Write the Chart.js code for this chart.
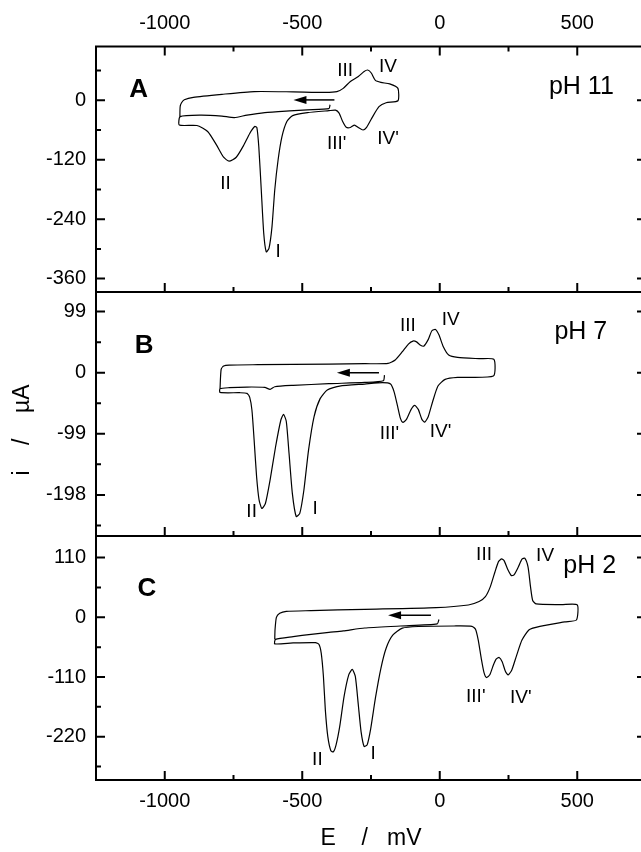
<!DOCTYPE html>
<html>
<head>
<meta charset="utf-8">
<script src="https://cdn.jsdelivr.net/npm/chart.js@4"></script>
<style>
  html, body { margin: 0; padding: 0; overflow: hidden; background: #fff; width: 641px; height: 852px; }
  canvas { position: absolute; left: 0; }
</style>
</head>
<body>
<canvas id="cA" width="650" height="295" style="top:0px"></canvas>
<canvas id="cB" width="650" height="250" style="top:289px"></canvas>
<canvas id="cC" width="650" height="319" style="top:533px"></canvas>
<script>
// potential axis (mV)
const xTicks = [-1000, -500, 0, 500];
const xMinor = [-750, -250, 250];

// current axes (uA), one per panel
const yTicksA = [0, -120, -240, -360];
const yMinorA = [60, -60, -180, -300];
const yTicksB = [99, 0, -99, -198];
const yMinorB = [49.5, -49.5, -148.5, -247.5];
const yTicksC = [110, 0, -110, -220];
const yMinorC = [55, -55, -165, -275];

// voltammograms, [E mV, i uA] in scan order
const cvA = [
  [-399, -9], [-403, -17],
  [-481, -19.5], [-546, -21.6], [-636, -25], [-701, -30], [-747, -35], [-792, -32], [-870, -30], [-944, -33],
  [-947, -50],
  [-883, -51], [-844, -63], [-812, -90], [-786, -115], [-766, -123], [-740, -115], [-714, -92], [-691, -67],
  [-673, -53], [-665, -55], [-658, -94], [-649, -181], [-640, -269], [-631, -306], [-621, -299], [-610, -255],
  [-600, -181], [-588, -121], [-574, -74], [-556, -43], [-535, -31], [-481, -25], [-403, -21], [-379, -20],
  [-366, -26], [-353, -43], [-340, -54.6], [-325, -55], [-310, -50], [-296, -55], [-279, -60], [-266, -54.6],
  [-247, -36], [-221, -13], [-195, -5], [-152, -1],
  [-152, 24],
  [-182, 33], [-214, 36], [-234, 40], [-249, 55], [-262, 61], [-275, 58], [-296, 48], [-325, 38], [-351, 24],
  [-374, 17.5], [-416, 16], [-533, 17], [-675, 17.5], [-792, 12], [-896, 6], [-929, 1], [-939, -5], [-944, -13], [-945, -33]
];

const cvB = [
  [-201, -4], [-205, -13],
  [-273, -15.7], [-403, -17.8], [-533, -20.5], [-600, -22.7], [-617, -27], [-636, -23.8], [-701, -23.2], [-766, -24.3], [-799, -26],
  [-799, -32],
  [-727, -32.4], [-701, -33.5], [-691, -40], [-683, -60.5], [-675, -109], [-666, -168.5], [-657, -206], [-647, -220],
  [-634, -212], [-617, -174], [-597, -120], [-578, -77], [-568, -67.5], [-558, -79], [-548, -131], [-536, -195.5],
  [-522, -233], [-509, -228], [-494, -190], [-477, -125], [-457, -71], [-435, -42], [-409, -28], [-364, -21.6],
  [-273, -18.4], [-208, -16.2], [-179, -18.4],
  [-166, -31], [-153, -55], [-143, -74], [-134, -80.5], [-121, -75.6], [-104, -59.4], [-91, -53], [-78, -59.4],
  [-65, -75.6], [-54.5, -80], [-42, -71.3], [-26, -47], [-6.5, -21.6], [19.5, -10.8], [65, -7.6], [195, -5.4],
  [197, 21.6],
  [143, 22.7], [65, 24.8], [32.5, 28.6], [13, 42], [-2.6, 61], [-15.6, 70], [-28.6, 68], [-41.6, 54], [-58.4, 43],
  [-71.4, 45], [-84.4, 50], [-97.4, 51.3], [-114, 46.4], [-136, 34], [-162, 20.5], [-188, 15], [-273, 14.6],
  [-403, 14], [-662, 13], [-766, 12.4], [-786, 10.8], [-795, 5.4], [-799, -26]
];

const cvC = [
  [-3, -4], [-9, -12],
  [-143, -16], [-273, -19.7], [-351, -25], [-403, -27.7], [-468, -31.3], [-533, -35.6], [-597, -40.6],
  [-600, -49],
  [-533, -47.3], [-452, -46.7], [-439, -50], [-431, -66], [-423, -109], [-416, -171], [-407, -220], [-396, -246],
  [-387, -248], [-377, -235], [-364, -202], [-348, -146], [-331, -106], [-318, -96], [-307, -109], [-296, -162],
  [-286, -211], [-275, -238], [-264, -235], [-251, -205], [-234, -149], [-214, -94], [-195, -57], [-171, -33],
  [-136, -20], [-78, -17], [52, -16], [117, -16.6],
  [130, -22], [140, -42], [151, -76], [161, -102], [170, -111], [182, -106], [195, -88], [205, -77], [216, -74],
  [227, -82], [239, -100], [249, -106], [262, -97], [279, -71], [299, -42], [325, -23], [364, -16.6], [455, -8.6], [497, -5],
  [500, 23],
  [442, 23.4], [351, 24.6], [338, 31], [330, 56.5], [321, 93], [309, 109], [299, 107], [286, 93], [270, 78],
  [260, 77], [247, 88.5], [234, 104.5], [225, 107.5], [214, 103], [201, 84], [184, 56.5], [166, 38], [143, 29],
  [104, 22.7], [-13, 17.8], [-273, 14.7], [-468, 12.3], [-558, 11], [-582, 7.4], [-594, 0], [-599, -23], [-600, -40.6]
];

const FONT = "'Liberation Sans', Arial, sans-serif";
Chart.defaults.font.family = FONT;
Chart.defaults.color = '#000';

// frame, inward ticks, peak labels and scan arrow
const panelPlugin = {
  id: 'panel',
  afterDraw(chart) {
    const o = chart.options.plugins.panel;
    const { ctx, chartArea: a } = chart;
    const x = chart.scales.x, y = chart.scales.y;
    ctx.save();
    ctx.strokeStyle = '#000';
    ctx.lineWidth = 2;
    ctx.strokeRect(a.left, a.top, a.right - a.left, a.bottom - a.top);

    ctx.beginPath();
    const xt = (vals, len) => vals.forEach(v => {
      const px = x.getPixelForValue(v);
      ctx.moveTo(px, a.bottom); ctx.lineTo(px, a.bottom - len);
      if (o.topTicks) { ctx.moveTo(px, a.top); ctx.lineTo(px, a.top + len); }
    });
    const yt = (vals, len) => vals.forEach(v => {
      const py = y.getPixelForValue(v);
      ctx.moveTo(a.left, py); ctx.lineTo(a.left + len, py);
      ctx.moveTo(a.right, py); ctx.lineTo(a.right - len, py);
    });
    xt(xTicks, 9); xt(xMinor, 5);
    yt(o.yMajor, 9); yt(o.yMinor, 5);
    ctx.stroke();

    ctx.fillStyle = '#000';
    ctx.textAlign = 'center';
    ctx.textBaseline = 'middle';
    o.labels.forEach(l => {
      ctx.font = l.font;
      ctx.fillText(l.text, x.getPixelForValue(l.e), y.getPixelForValue(l.i));
    });

    // arrow showing scan direction
    const ar = o.arrow;
    const x1 = x.getPixelForValue(ar.from), x2 = x.getPixelForValue(ar.to), py = y.getPixelForValue(ar.i);
    ctx.lineWidth = 1.5;
    ctx.beginPath();
    ctx.moveTo(x1, py); ctx.lineTo(x2 + 10, py);
    ctx.stroke();
    ctx.beginPath();
    ctx.moveTo(x2, py); ctx.lineTo(x2 + 13, py - 4); ctx.lineTo(x2 + 13, py + 4);
    ctx.closePath();
    ctx.fill();
    ctx.restore();
  }
};

const roman = '19px ' + FONT;
const big = '25px ' + FONT;
const bold = 'bold 26px ' + FONT;

// keep the panels flush: no extra room for edge labels
function noPad(s) {
  s.paddingTop = 0; s.paddingBottom = 0; s.paddingLeft = 0; s.paddingRight = 0;
}

function makePanel(id, cv, yMin, yMax, yMajor, yMinor, opts) {
  const xScale = {
    type: 'linear', min: -1250, max: 750,
    position: opts.xPos || 'bottom',
    display: opts.xShow,
    afterBuildTicks: s => { s.ticks = xTicks.map(v => ({ value: v })); },
    afterFit: s => { if (opts.xHeight) s.height = opts.xHeight; noPad(s); },
    grid: { display: false, drawTicks: false },
    border: { display: false },
    ticks: { font: { size: 20 }, color: '#000', padding: opts.xPad || 0, callback: v => String(v), maxRotation: 0 },
    title: opts.xTitle || { display: false }
  };
  const yScale = {
    type: 'linear', min: yMin, max: yMax,
    afterBuildTicks: s => { s.ticks = yMajor.map(v => ({ value: v })); },
    afterFit: s => { s.width = 96; noPad(s); },
    grid: { display: false, drawTicks: false },
    border: { display: false },
    ticks: { font: { size: 20 }, color: '#000', padding: 10, callback: v => String(v) },
    title: opts.yTitle || { display: false }
  };
  return new Chart(document.getElementById(id), {
    type: 'scatter',
    data: {
      datasets: [{
        data: cv.map(p => ({ x: p[0], y: p[1] })),
        showLine: true,
        borderColor: '#000',
        borderWidth: 1.2,
        pointRadius: 0,
        tension: 0.2
      }]
    },
    options: {
      responsive: false,
      animation: false,
      devicePixelRatio: 1,
      layout: { padding: opts.padding },
      plugins: {
        legend: { display: false },
        tooltip: { enabled: false },
        panel: { topTicks: !!opts.topTicks, yMajor, yMinor, labels: opts.labels, arrow: opts.arrow }
      },
      scales: { x: xScale, y: yScale }
    },
    plugins: [panelPlugin]
  });
}

makePanel('cA', cvA, -387, 108.5, yTicksA, yMinorA, {
  xPos: 'top', xShow: true, xHeight: 46.5, xPad: 11.5, topTicks: true,
  padding: { left: 0, right: 4, top: 0, bottom: 3 },
  arrow: { from: -383, to: -532, i: 0.7 },
  labels: [
    { text: 'A', e: -1095, i: 21, font: bold },
    { text: 'pH 11', e: 515, i: 26, font: big },
    { text: 'III', e: -344, i: 59, font: roman },
    { text: 'IV', e: -188, i: 67, font: roman },
    { text: "III'", e: -375, i: -88, font: roman },
    { text: "IV'", e: -188, i: -78, font: roman },
    { text: 'II', e: -779, i: -169, font: roman },
    { text: 'I', e: -588, i: -306, font: roman }
  ]
});

makePanel('cB', cvB, -264.6, 130.8, yTicksB, yMinorB, {
  xShow: false,
  padding: { left: 0, right: 4, top: 3, bottom: 3 },
  yTitle: { display: true, text: 'i    /    µA     ', font: { size: 23 }, color: '#000', padding: { top: 9, bottom: 0 } },
  arrow: { from: -221, to: -374, i: 0 },
  labels: [
    { text: 'B', e: -1075, i: 44, font: bold },
    { text: 'pH 7', e: 513, i: 65, font: big },
    { text: 'III', e: -116, i: 76, font: roman },
    { text: 'IV', e: 40, i: 85, font: roman },
    { text: "III'", e: -183, i: -99, font: roman },
    { text: "IV'", e: 3, i: -96, font: roman },
    { text: 'II', e: -684, i: -226, font: roman },
    { text: 'I', e: -453, i: -221, font: roman }
  ]
});

makePanel('cC', cvC, -299.8, 149.8, yTicksC, yMinorC, {
  xPos: 'bottom', xShow: true, xHeight: 72, xPad: 9,
  padding: { left: 0, right: 4, top: 3, bottom: 0 },
  xTitle: { display: true, text: 'E    /   mV', font: { size: 23 }, color: '#000', padding: { top: 0, bottom: 0 } },
  arrow: { from: -32, to: -188, i: 4 },
  labels: [
    { text: 'C', e: -1065, i: 52, font: bold },
    { text: 'pH 2', e: 545, i: 95, font: big },
    { text: 'III', e: 161, i: 115, font: roman },
    { text: 'IV', e: 383, i: 113, font: roman },
    { text: "III'", e: 131, i: -146, font: roman },
    { text: "IV'", e: 295, i: -149, font: roman },
    { text: 'II', e: -445, i: -263, font: roman },
    { text: 'I', e: -242, i: -251, font: roman }
  ]
});
</script>
</body>
</html>
